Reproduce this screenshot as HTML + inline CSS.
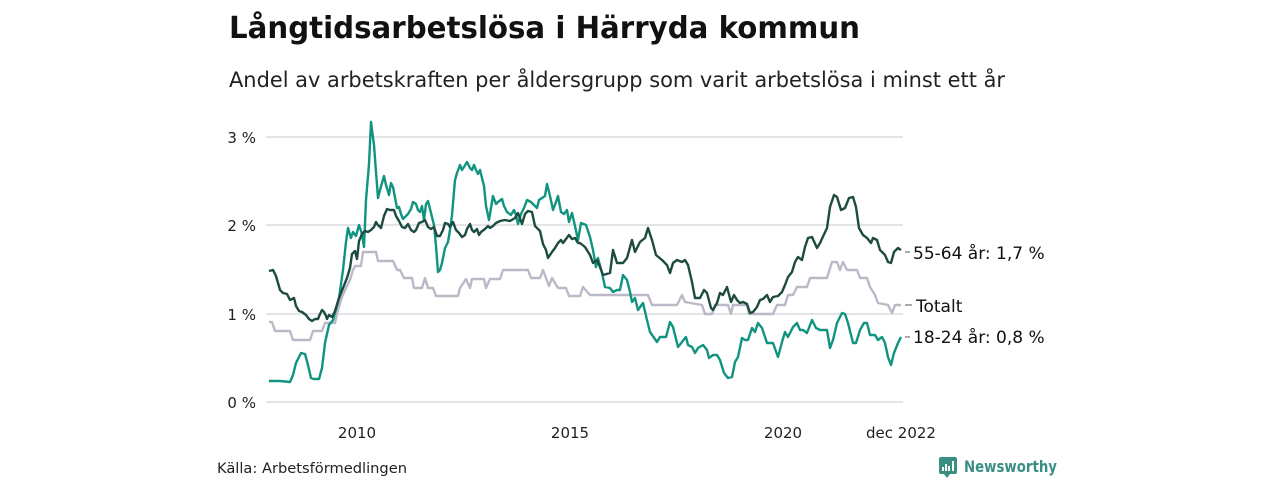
<!DOCTYPE html>
<html><head><meta charset="utf-8"><style>
body{margin:0;background:#fff;width:1280px;height:480px;overflow:hidden;font-family:"Liberation Sans","DejaVu Sans",sans-serif;}
</style></head><body>
<svg width="1280" height="480" xmlns="http://www.w3.org/2000/svg" font-family="'DejaVu Sans','Liberation Sans',sans-serif">
<text x="229" y="38" font-size="30" font-weight="bold" fill="#111" textLength="631" lengthAdjust="spacingAndGlyphs">Långtidsarbetslösa i Härryda kommun</text>
<text x="229" y="87" font-size="21" fill="#222" textLength="776" lengthAdjust="spacingAndGlyphs">Andel av arbetskraften per åldersgrupp som varit arbetslösa i minst ett år</text>
<g stroke="#dcdce0" stroke-width="1.5">
<line x1="266" x2="903" y1="137" y2="137"/><line x1="266" x2="903" y1="225" y2="225"/>
<line x1="266" x2="903" y1="314" y2="314"/><line x1="266" x2="903" y1="402" y2="402"/>
</g>
<g font-size="15" fill="#222" text-anchor="end">
<text x="256" y="143">3 %</text><text x="256" y="231">2 %</text><text x="256" y="320">1 %</text><text x="256" y="408">0 %</text>
</g>
<g font-size="15" fill="#222" text-anchor="middle">
<text x="357" y="438">2010</text><text x="570" y="438">2015</text><text x="783" y="438">2020</text><text x="901" y="438">dec 2022</text>
</g>
<g fill="none" stroke-width="2.4" stroke-linejoin="round">
<polyline stroke="#bbb9c7" points="269,322 272,322 275,331 290,331 293,340 310,340 313,331 322,331 325,323 335,323 338,310 342,297 346,288 350,280 353,270 355,266 361,266 363,252 376,252 378,261 393,261 397,270 400,270 404,278 412,278 414,288 422,288 425,278 428,288 433,288 436,296 458,296 460,288 466,279 470,288 472,279 484,279 486,288 490,279 500,279 503,270 528,270 531,278 540,278 543,270 546,278 549,286 552,278 558,288 566,288 569,296 580,296 583,287 590,295 648,295 652,305 677,305 682,295 685,302 702,305 705,314 712,314 715,305 728,305 731,314 733,305 747,305 749,314 773,314 777,305 785,305 788,295 793,295 797,287 807,287 810,278 827,278 832,262 837,262 840,270 843,262 847,270 857,270 860,278 867,278 870,287 875,295 878,303 888,305 892,313 895,305 901,305"/>
<polyline stroke="#109480" points="269,381 280,381 290,382 293,375 296,363 301,353 305,354 308,365 311,378 314,379 319,379 322,368 325,343 329,325 333,320 339,298 343,270 346,242 348,228 351,238 353,232 356,236 359,225 362,234 364,247 366,200 369,164 371,122 374,145 376,172 378,198 380,190 382,183 384,176 386,185 389,195 391,183 393,187 397,208 399,207 401,214 403,219 408,214 411,209 413,202 416,204 418,210 420,212 422,206 424,220 426,204 428,201 431,213 434,225 436,246 438,272 440,270 442,263 445,248 448,242 450,230 452,215 455,180 457,173 460,165 462,170 464,167 467,162 470,168 472,170 474,165 476,170 478,174 480,170 484,186 486,206 489,220 493,196 496,204 498,202 502,199 504,206 507,212 511,215 514,210 516,215 518,224 521,214 524,208 527,200 531,202 534,205 537,208 539,200 542,198 545,196 547,184 550,196 553,210 556,202 558,196 561,212 564,214 567,210 569,222 572,213 575,226 578,240 581,223 586,225 590,237 593,250 596,267 598,258 602,273 605,287 610,288 613,292 617,290 620,290 623,275 627,280 630,292 632,302 635,298 638,310 643,303 647,320 650,332 657,342 660,337 666,337 670,322 673,327 678,347 682,342 686,337 688,345 692,347 695,353 698,348 703,345 707,350 709,358 713,355 717,355 720,360 724,373 728,378 732,377 735,362 738,357 742,338 745,340 748,340 752,328 755,332 758,323 762,328 767,343 773,343 778,357 782,342 785,332 788,337 793,327 797,323 800,330 803,330 807,333 812,320 816,328 820,330 827,330 830,348 833,340 837,323 842,313 845,314 848,323 853,343 856,343 860,330 864,323 867,323 870,335 875,335 878,340 882,337 885,343 888,357 891,365 894,353 898,343 901,337"/>
<polyline stroke="#1d4b40" points="269,271 273,270 276,276 278,283 280,290 283,293 287,294 290,300 294,298 296,306 299,311 302,312 306,315 309,319 312,321 315,319 318,319 320,314 322,310 324,312 326,316 327,319 329,315 332,317 335,311 339,298 343,288 347,278 350,268 352,254 355,251 357,259 359,241 362,234 365,231 368,232 371,230 374,227 376,222 378,225 381,228 384,216 387,209 390,210 394,210 396,216 399,221 402,227 405,228 408,224 411,230 414,232 416,230 419,223 422,222 425,220 428,227 431,229 434,227 437,236 440,236 443,230 445,223 448,224 450,227 453,222 456,230 459,233 462,237 465,235 467,229 470,224 472,230 474,232 477,229 479,235 481,232 485,229 488,226 490,228 493,226 496,223 500,221 505,220 510,221 515,218 518,213 522,224 525,214 528,211 532,212 535,226 538,229 540,231 543,244 546,250 548,258 552,252 555,248 558,243 561,240 563,243 566,239 569,235 572,239 575,238 578,243 580,243 585,247 590,255 593,263 597,260 600,267 603,275 610,273 613,250 617,263 623,263 627,258 632,240 635,252 640,242 645,238 648,228 652,240 656,255 662,260 667,265 670,273 673,263 677,260 682,262 685,260 688,265 692,282 695,298 700,298 704,290 707,293 711,308 713,310 717,303 720,293 723,295 727,287 731,302 734,295 737,300 740,303 743,302 747,304 750,313 753,312 757,307 760,300 763,299 767,295 770,302 773,297 778,296 782,292 785,285 788,277 792,272 795,262 798,257 802,260 805,247 808,238 812,237 817,248 820,243 827,228 830,207 834,195 837,197 841,210 845,208 849,198 853,197 856,207 859,228 863,235 867,238 871,243 873,238 877,240 880,250 885,255 888,262 891,263 894,252 898,248 901,250"/>
</g>
<g stroke="#555" stroke-width="1">
<line x1="905" x2="910" y1="252" y2="252"/><line x1="905" x2="912" y1="305" y2="305"/><line x1="905" x2="910" y1="337" y2="337"/>
</g>
<g font-size="17" fill="#111">
<text x="913" y="259">55-64 år: 1,7 %</text>
<text x="916" y="312">Totalt</text>
<text x="913" y="343">18-24 år: 0,8 %</text>
</g>
<text x="217" y="473" font-size="14" fill="#222" textLength="190" lengthAdjust="spacingAndGlyphs">Källa: Arbetsförmedlingen</text>
<g>
<rect x="939" y="457" width="18" height="17" rx="2" fill="#3a8f84"/>
<polygon points="944,474 950,474 947,478" fill="#3a8f84"/>
<rect x="942" y="467" width="2" height="4" fill="#fff"/><rect x="945" y="464" width="2" height="7" fill="#fff"/><rect x="948" y="466" width="2" height="5" fill="#fff"/><rect x="952" y="461" width="2" height="10" fill="#fff"/>
<text x="964" y="472" font-size="16" font-weight="bold" fill="#3a8f84" textLength="93" lengthAdjust="spacingAndGlyphs">Newsworthy</text>
</g>
</svg>
</body></html>
